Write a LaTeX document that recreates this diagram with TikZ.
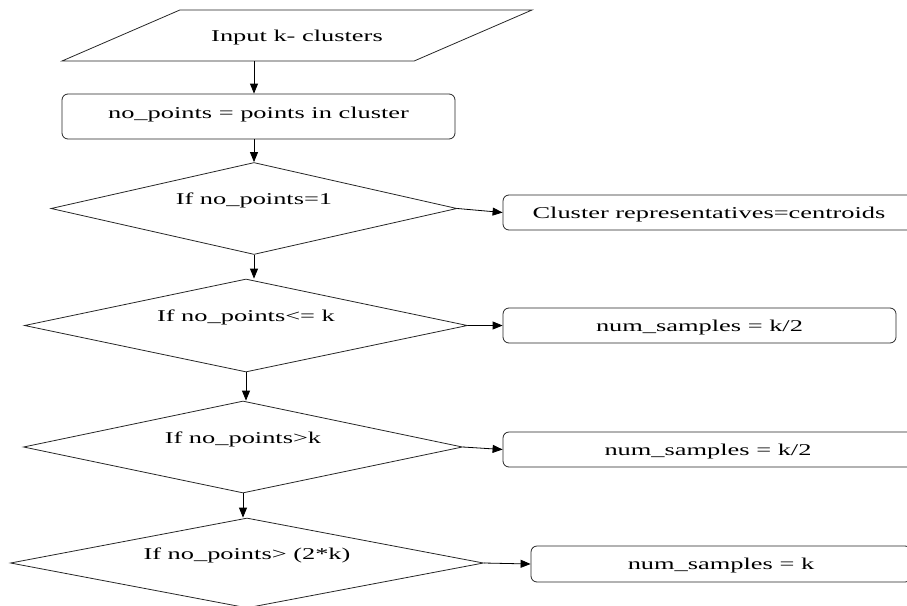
\documentclass[tikz,border=0pt]{standalone}
\usepackage{fontspec}
\setmainfont[FakeStretch=1.6]{Liberation Serif}
\usetikzlibrary{shapes,arrows.meta}

\begin{document}
\begin{tikzpicture}[x=1pt,y=-1pt,>={Triangle[length=10pt,width=8pt]},
  font=\fontsize{16.5}{19}\selectfont,
  box/.style={draw=black!85,line width=0.8pt,inner sep=0pt,text height=11pt,text depth=0pt},
  io/.style={box,trapezium,trapezium left angle=23.4,trapezium right angle=156.6,
    trapezium stretches body,inner ysep=20pt,minimum width=470pt},
  proc/.style={box,rectangle,rounded corners=6pt,minimum height=35pt},
  cond/.style={box,diamond,aspect=4.5,text depth=19pt}]
\useasboundingbox (0,0) rectangle (907,605);
\clip (0,0) rectangle (907,605);
% left column
\node[io] (in0) at (297,35.5) {Input k- clusters};
\node[proc,minimum width=393pt,minimum height=45pt,text depth=8pt] (b0) at (258.5,116.5) {no\_points = points in cluster};
\node[cond,minimum width=406pt,minimum height=92pt] (d1) at (254,208.5) {If no\_points=1};
\node[cond,minimum width=443pt,minimum height=93pt] (d2) at (246,325.5) {If no\_points<= k};
\node[cond,minimum width=439pt,minimum height=92pt] (d3) at (243,447) {If no\_points>k};
\node[cond,minimum width=473pt,minimum height=90pt] (d4) at (247,563) {If no\_points> (2*k)};
% right column
\node[proc,minimum width=412pt] (b1) at (709,212.5) {Cluster representatives=centroids};
\node[proc,minimum width=393pt] (b2) at (699.5,325.5) {num\_samples = k/2};
\node[proc,minimum width=410pt] (b3) at (708,449.5) {num\_samples = k/2};
\node[proc,minimum width=380pt,minimum height=36pt] (b4) at (721,564) {num\_samples = k};
% arrows
\draw[->,line width=0.8pt] (in0.south -| d1.north)--(b0.north -| d1.north);
\draw[->,line width=0.8pt] (b0.south -| d1.north)--(d1.north);
\draw[->,line width=0.8pt] (d1.south)--(d1.south |- d2.north);
\draw[->,line width=0.8pt] (d2.south)--(d2.south |- d3.north);
\draw[->,line width=0.8pt] (d3.south)--(d3.south |- d4.north);
\draw[->,line width=0.8pt] (d1.east)--(b1.west);
\draw[->,line width=0.8pt] (d2.east)--(b2.west);
\draw[->,line width=0.8pt] (d3.east)--(b3.west);
\draw[->,line width=0.8pt] (d4.east)--(b4.west);
\end{tikzpicture}
\end{document}
